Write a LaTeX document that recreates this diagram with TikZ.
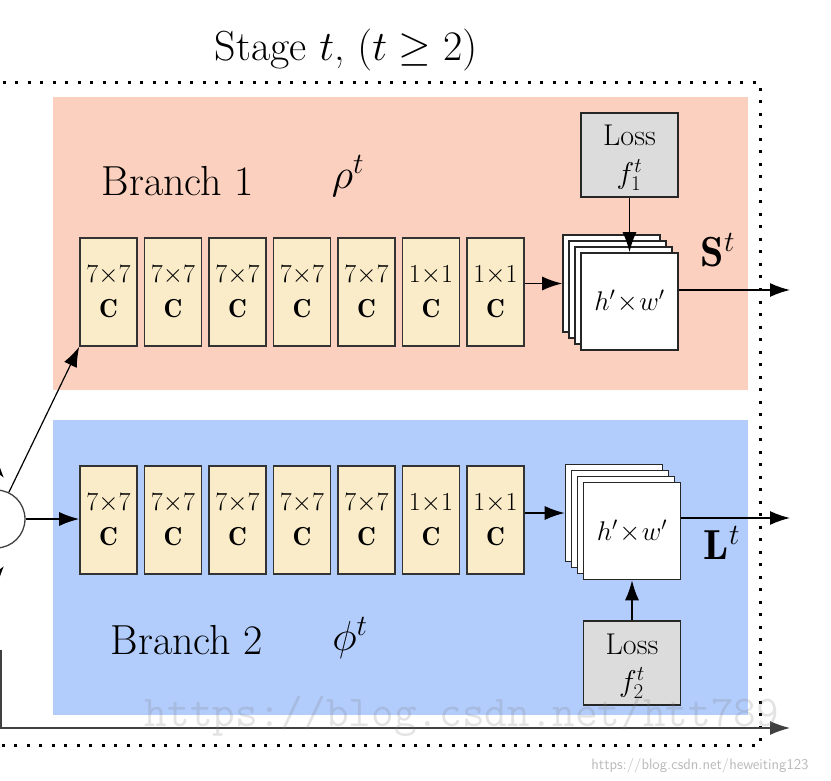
\RequirePackage{fix-cm}
\documentclass[tikz,border=0pt]{standalone}
\usepackage{fontspec}
\usetikzlibrary{arrows.meta}
\definecolor{pinkbg}{RGB}{252,208,190}
\definecolor{bluebg}{RGB}{178,204,252}
\definecolor{cream}{RGB}{250,236,200}
\definecolor{lossgray}{RGB}{220,220,220}
\tikzset{
  conv/.style={draw=black!80, line width=1.6pt, fill=cream, minimum width=57pt,
    minimum height=108pt, inner sep=0pt, align=center,
    font=\fontsize{26}{35}\selectfont},
  lossbox/.style={draw=black!85, line width=1.6pt, fill=lossgray, minimum width=97pt,
    minimum height=84pt, inner sep=0pt},
  losstxt/.style={font=\fontsize{30}{32}\selectfont, inner sep=0pt},
  fmap/.style={draw=black!85, line width=1.6pt, fill=white, minimum size=97pt,
    inner sep=0pt, font=\fontsize{27}{30}\selectfont},
  arr/.style={-{Latex[length=20pt,width=14pt]}, line width=1.5pt},
  lbl/.style={font=\fontsize{42}{48}\selectfont, inner sep=0pt},
  dotborder/.style={line width=3pt, dash pattern=on 3pt off 9.5pt},
}
\begin{document}
\begin{tikzpicture}[x=1pt,y=-1pt]
\useasboundingbox (0,0) rectangle (831,781);
\clip (0,0) rectangle (831,781);
% backgrounds
\fill[pinkbg] (53,97) rectangle (748,390);
\fill[bluebg] (53,420) rectangle (748,715);
% dotted stage frame
\draw[dotborder] (-10,83) -- (760,83) -- (760,745) -- (-10,745);
% title
\node[lbl] (title) at (346,50) {Stage $t$, $(t\geq 2)$};
% branch labels
\node[lbl] (br1) at (178,181) {Branch 1};
\node[lbl] (rho) at (348,176) {$\rho^t$};
\node[lbl] (br2) at (187,640) {Branch 2};
\node[lbl] (phi) at (350,638) {$\phi^t$};
% conv boxes
\foreach \i/\k in {1/7,2/7,3/7,4/7,5/7,6/1,7/1} {
  \node[conv] (t\i) at ({108.5+64.5*(\i-1)},292) {$\k{\times}\k$\\$\mathbf{C}$};
  \node[conv] (b\i) at ({108.5+64.5*(\i-1)},520) {$\k{\times}\k$\\$\mathbf{C}$};
}
% top stack
\foreach \j/\o in {3/18,2/12,1/6}
  \node[fmap] (ts\j) at ({629.5-\o},{301.5-\o}) {};
\node[fmap] (ts0) at (629.5,301.5) {$h'\!\times\! w'$};
% bottom stack
\foreach \j/\o in {3/18,2/12,1/6}
  \node[fmap] (bs\j) at ({632-\o},{531-\o}) {};
\node[fmap] (bs0) at (632,531) {$h'\!\times\! w'$};
% loss boxes
\node[lossbox] (l1) at (629.5,155) {};
\node[losstxt] (l1a) at (629.5,135) {Loss};
\node[losstxt] (l1b) at (629.5,175) {$f_1^t$};
\node[lossbox] (l2) at (632,663) {};
\node[losstxt] (l2a) at (632,644) {Loss};
\node[losstxt] (l2b) at (632,683) {$f_2^t$};
% output labels
\node[lbl] (S) at (718,250) {$\mathbf{S}^t$};
\node[lbl] (L) at (722,543) {$\mathbf{L}^t$};
% arrows
\draw[arr] (t7.east |- ts3.west) -- (ts3.west);
\draw[arr] (b7.east |- bs3.west) -- (bs3.west);
\draw[arr] (l1.south) -- (l1.south |- ts0.north);
\draw[arr] (l2.north) -- (l2.north |- bs0.south);
\coordinate (sout) at (790,290);
\coordinate (lout) at (790,518);
\draw[arr] (ts0.east |- sout) -- (sout);
\draw[arr] (bs0.east |- lout) -- (lout);
% concat circle
\node[draw=black!75, circle, minimum size=58pt, line width=1.3pt] (cat) at (-4,519) {};
\draw[arr] (cat.east) -- (cat.east -| b1.west);
\draw[arr, line width=1.2pt] (cat) -- (t1.south west);
\coordinate (m1a) at (-26,438);
\coordinate (m1b) at (4,478);
\coordinate (m2a) at (-26,606);
\coordinate (m2b) at (4,566);
\draw[arr] (m1a) -- (m1b);
\draw[arr] (m2a) -- (m2b);
% bottom pass-through line
\coordinate (bl0) at (1,650);
\coordinate (blend) at (790,728);
\draw[arr, line width=1.3pt, draw=black!75] (bl0) |- (blend);
% watermarks
\node[font=\ttfamily\fontsize{44}{50}\selectfont, text=gray, opacity=0.22] (wm1) at (462,716) {https://blog.csdn.net/htt789};
\node[font=\sffamily\fontsize{15}{18}\selectfont, text=gray!55] (wm2) at (700,766) {https://blog.csdn.net/heweiting123};
\end{tikzpicture}
\end{document}
